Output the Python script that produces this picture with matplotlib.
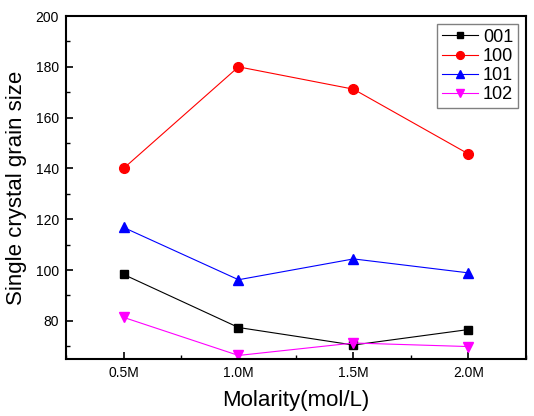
import matplotlib
matplotlib.use("Agg")
import matplotlib.pyplot as plt
from matplotlib.ticker import MultipleLocator

plt.rcParams['font.family'] = ['Liberation Sans', 'DejaVu Sans']

# molarity positions and labels
molarity = [0.5, 1.0, 1.5, 2.0]
tick_labels = ['0.5M', '1.0M', '1.5M', '2.0M']

# grain size per plane
size_001 = [98.3, 77.4, 70.5, 76.6]
size_100 = [140.0, 180.0, 171.2, 145.7]
size_101 = [116.8, 96.2, 104.4, 98.9]
size_102 = [81.4, 66.4, 71.3, 69.9]

fig = plt.figure(figsize=(5.34, 4.16), dpi=100)
ax = fig.add_axes([0.1236, 0.137, 0.8614, 0.8245])

ax.plot(molarity, size_001, color='black', marker='s', ms=6, lw=0.8, label='001')
ax.plot(molarity, size_100, color='red', marker='o', ms=7, lw=0.8, label='100')
ax.plot(molarity, size_101, color='blue', marker='^', ms=7, lw=0.8, label='101')
ax.plot(molarity, size_102, color='magenta', marker='v', ms=7, lw=0.8, label='102')

ax.set_xlim(0.25, 2.25)
ax.set_ylim(65, 200)
ax.set_xticks(molarity)
ax.set_xticklabels(tick_labels)
ax.xaxis.set_minor_locator(MultipleLocator(0.25))
ax.set_yticks([80, 100, 120, 140, 160, 180, 200])
ax.yaxis.set_minor_locator(MultipleLocator(10))

ax.tick_params(which='both', direction='in', top=False, right=False, labelsize=10)
ax.tick_params(which='major', length=5, width=1.2, pad=5)
ax.tick_params(which='minor', length=3, width=1.0)
for s in ax.spines.values():
    s.set_linewidth(1.5)

ax.set_xlabel('Molarity(mol/L)', fontsize=16, labelpad=7)
ax.set_ylabel('Single crystal grain size', fontsize=16, labelpad=6)

leg = ax.legend(loc='upper right', fontsize=13, fancybox=False, framealpha=1,
                edgecolor='gray', handlelength=2.0, handletextpad=0.3,
                labelspacing=0.12, borderpad=0.25, borderaxespad=0.45,
                markerscale=0.8)
leg.get_frame().set_linewidth(1.0)

fig.savefig('out.png', dpi=100)
